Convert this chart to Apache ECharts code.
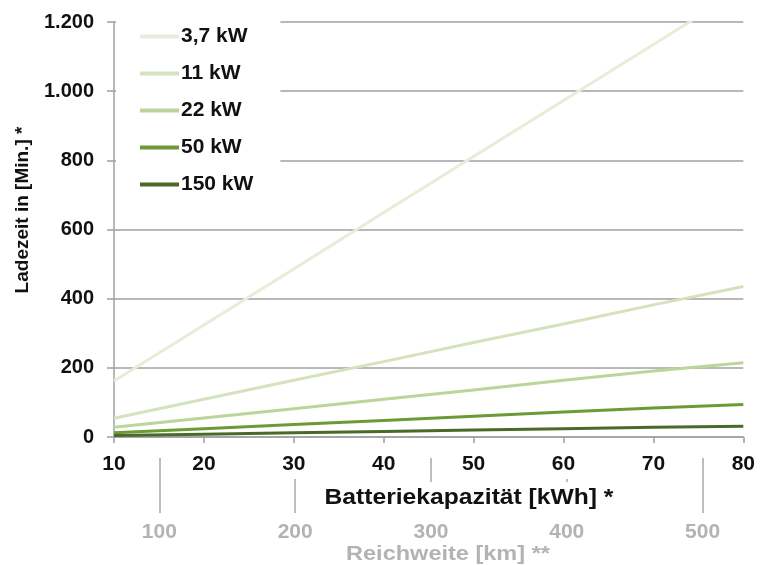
<!DOCTYPE html>
<html>
<head>
<meta charset="utf-8">
<script src="https://cdn.jsdelivr.net/npm/echarts@6/dist/echarts.min.js"></script>
<style>html,body{margin:0;padding:0;background:#fff}#c{width:761px;height:565px}</style>
</head>
<body>
<div id="c"></div>
<script>
var capacities = [10, 20, 30, 40, 50, 60, 70, 80];
var seriesNames = ['3,7 kW', '11 kW', '22 kW', '50 kW', '150 kW'];
var v37 = [162, 324, 486, 649, 811, 973, 1135, 1297];
var v11 = [54, 109, 164, 218, 273, 327, 382, 435];
var v22 = [28, 55, 82, 109, 136, 164, 191, 215];
var v50 = [12, 24, 36, 48, 60, 72, 84, 94];
var v150 = [4, 8, 12, 16, 20, 24, 28, 31];
var rangeTicks = [100, 200, 300, 400, 500];
var xTitle = 'Batteriekapazität [kWh] *';
var yTitle = 'Ladezeit in [Min.] *';
var rangeTitle = 'Reichweite [km] **';
var colors = ['#e6eed9', '#d4e3bd', '#bcd59b', '#6c9a36', '#4a6a28'];

var allValues = [v37, v11, v22, v50, v150];
var FONT = '"Liberation Sans", Arial, sans-serif';

function pairs(vals) {
  return capacities.map(function (c, i) { return [c, vals[i]]; });
}

var series = seriesNames.map(function (n, i) {
  return {
    name: n,
    type: 'line',
    xAxisIndex: 0,
    data: pairs(allValues[i]),
    symbol: 'none',
    clip: true,
    lineStyle: { color: colors[i], width: 3 },
    itemStyle: { color: colors[i] },
    z: 3
  };
});

var chart = echarts.init(document.getElementById('c'));
chart.setOption({
  animation: false,
  backgroundColor: '#fff',
  textStyle: { fontFamily: FONT },
  grid: { left: 114, right: 14, top: 22, bottom: 128, containLabel: false },
  legend: {
    orient: 'vertical',
    left: 116,
    top: 13,
    padding: [13, 27, 18, 24],
    backgroundColor: '#fff',
    itemWidth: 39,
    itemHeight: 4,
    itemGap: 16,
    icon: 'rect',
    data: seriesNames,
    textStyle: { fontFamily: FONT, fontWeight: 'bold', fontSize: 21, color: '#111', padding: [0, 0, 0, -3] },
    z: 5
  },
  graphic: [
    {
      type: 'text', x: 469, y: 498, z: 100, scaleX: 1.12,
      style: {
        text: xTitle, fontFamily: FONT, fontWeight: 'bold', fontSize: 22, fill: '#111',
        align: 'center', verticalAlign: 'middle', backgroundColor: '#fff', padding: [5, 4, 5, 4]
      }
    },
    {
      type: 'text', x: 448, y: 554, z: 100, scaleX: 1.12,
      style: {
        text: rangeTitle, fontFamily: FONT, fontWeight: 'bold', fontSize: 21, fill: '#b3b3b3',
        align: 'center', verticalAlign: 'middle'
      }
    },
    {
      type: 'text', x: 23, y: 210, z: 100, rotation: Math.PI / 2,
      style: {
        text: yTitle, fontFamily: FONT, fontWeight: 'bold', fontSize: 19, fill: '#111',
        align: 'center', verticalAlign: 'middle'
      }
    }
  ],
  xAxis: [
    {
      type: 'value',
      min: 10,
      max: 80,
      interval: 10,
      position: 'bottom',
      z: 3,
      axisLine: { show: true, lineStyle: { color: '#a0a0a0', width: 1.5 } },
      axisTick: { show: true, length: 6, lineStyle: { color: '#a0a0a0', width: 1.5 } },
      splitLine: { show: false },
      axisLabel: {
        margin: 15,
        fontFamily: FONT, fontWeight: 'bold', fontSize: 21, color: '#111',
        backgroundColor: '#fff', padding: [2, 3, 4, 3]
      }
    },
    {
      type: 'value',
      min: 66.6,
      max: 530,
      position: 'bottom',
      offset: 21,
      z: 1,
      axisLine: { show: false },
      axisTick: { show: true, length: 55, customValues: rangeTicks, lineStyle: { color: '#a8a8a8', width: 1.5 } },
      splitLine: { show: false },
      axisLabel: {
        customValues: rangeTicks,
        margin: 64,
        fontFamily: FONT, fontWeight: 'bold', fontSize: 21, color: '#b3b3b3'
      }
    }
  ],
  yAxis: {
    type: 'value',
    min: 0,
    max: 1200,
    interval: 200,
    axisLine: { show: true, lineStyle: { color: '#a0a0a0', width: 1.5 } },
    axisTick: { show: true, length: 7, lineStyle: { color: '#a0a0a0', width: 1.5 } },
    splitLine: { show: true, lineStyle: { color: '#a0a0a0', width: 1.5 } },
    axisLabel: {
      margin: 20,
      fontFamily: FONT, fontWeight: 'bold', fontSize: 20, color: '#111',
      formatter: function (v) { return String(v).replace(/\B(?=(\d{3})+(?!\d))/g, '.'); }
    }
  },
  series: series
});
</script>
</body>
</html>
